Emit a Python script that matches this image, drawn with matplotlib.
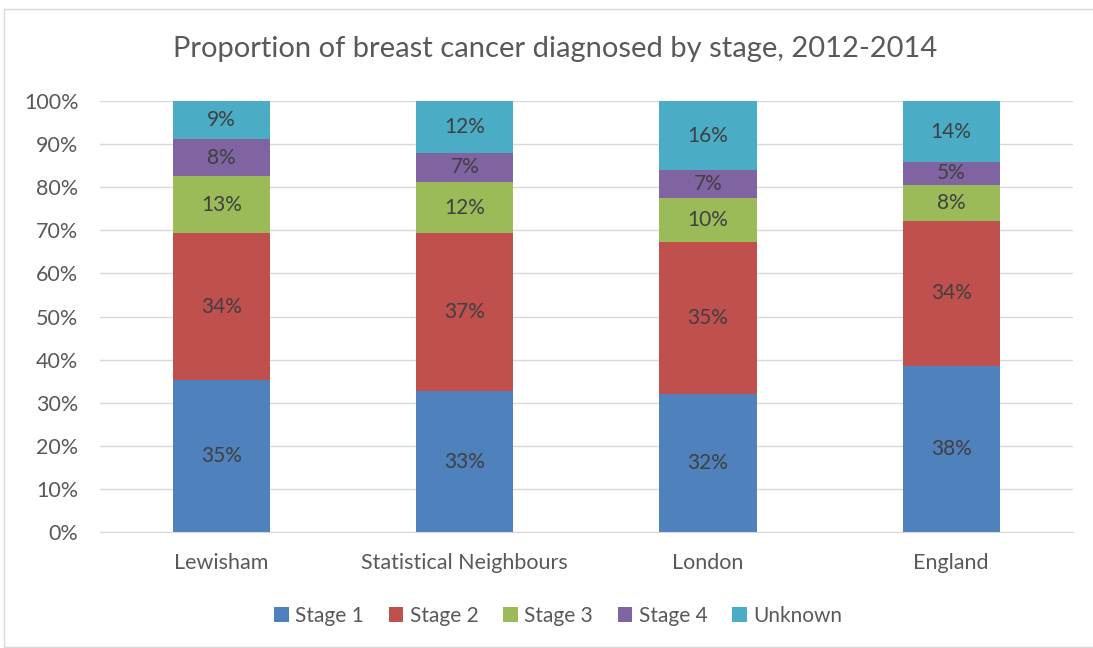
import numpy as np
import matplotlib.pyplot as plt
from matplotlib.ticker import PercentFormatter
from matplotlib.patches import Rectangle

plt.rcParams['font.family'] = ['Lato', 'DejaVu Sans']

areas = ['Lewisham', 'Statistical Neighbours', 'London', 'England']
stages = ['Stage 1', 'Stage 2', 'Stage 3', 'Stage 4', 'Unknown']
stage1 = [35.3, 32.7, 32.1, 38.5]
stage2 = [34.0, 36.6, 35.1, 33.7]
stage3 = [13.4, 12.0, 10.2, 8.4]
stage4 = [8.4, 6.7, 6.6, 5.2]
unknown = [8.9, 12.0, 16.0, 14.2]
colors = ['#4F81BD', '#C0504D', '#9BBB59', '#8064A2', '#4BACC6']

txt = '#595959'
fig = plt.figure(figsize=(10.93, 6.48), dpi=100)
ax = fig.add_axes([0.0915, 0.179, 0.89, 0.665])

x = np.arange(len(areas))
bottom = np.zeros(len(areas))
for name, vals, c in zip(stages, [stage1, stage2, stage3, stage4, unknown], colors):
    v = np.array(vals) / 100
    ax.bar(x, v, 0.4, bottom=bottom, color=c, label=name, zorder=2)
    for xi, b, h in zip(x, bottom, v):
        ax.text(xi, b + h / 2, '%d%%' % round(h * 100), ha='center', va='center',
                fontsize=15, color='#404040', zorder=3)
    bottom += v

ax.set_xlim(-0.5, 3.5)
ax.set_ylim(0, 1)
ax.set_yticks(np.arange(0, 1.01, 0.1))
ax.yaxis.set_major_formatter(PercentFormatter(1.0, decimals=0))
ax.set_xticks(x)
ax.set_xticklabels(areas)
ax.tick_params(length=0, labelsize=15.5, colors=txt)
ax.tick_params(axis='y', pad=15.5)
ax.tick_params(axis='x', pad=15)
ax.grid(axis='y', color='#D9D9D9', linewidth=1, zorder=0)
for s in ['top', 'right', 'left']:
    ax.spines[s].set_visible(False)
ax.spines['bottom'].set_color('#D9D9D9')

fig.suptitle('Proportion of breast cancer diagnosed by stage, 2012-2014',
             x=0.508, y=0.945, fontsize=21, color=txt)
ax.legend(loc='center', bbox_to_anchor=(0.471, -0.195), ncol=5, frameon=False,
          fontsize=15, handlelength=0.7, handleheight=0.7, columnspacing=1.2,
          handletextpad=0.3, labelcolor=txt)

fig.patches.append(Rectangle((0.004, 0.002), 1.2, 0.984, transform=fig.transFigure,
                             fill=False, edgecolor='#D9D9D9', linewidth=1))

fig.savefig('out.png', dpi=100)
